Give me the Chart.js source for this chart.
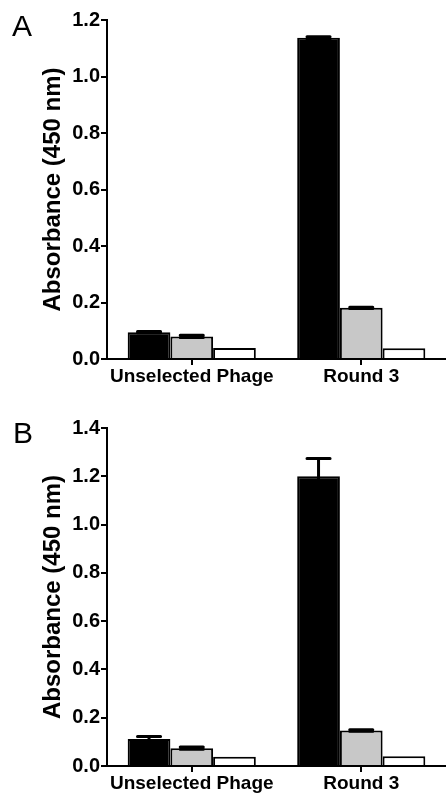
<!DOCTYPE html>
<html>
<head>
<meta charset="utf-8">
<script src="https://cdn.jsdelivr.net/npm/chart.js@4.4.0/dist/chart.umd.min.js"></script>
<style>
html, body { margin: 0; padding: 0; background: #fff; }
body { width: 446px; height: 794px; position: relative; overflow: hidden; }
.panel { position: absolute; left: 0; width: 446px; height: 397px; }
.letter { position: absolute; font: 30px/30px 'Liberation Sans', Arial, sans-serif; color: #000; }
</style>
</head>
<body>
<div class="panel" style="top:0"><canvas id="chartA"></canvas></div>
<div class="panel" style="top:397px"><canvas id="chartB"></canvas></div>
<div class="letter" style="left:12px;top:11px">A</div>
<div class="letter" style="left:13px;top:418px">B</div>
<script>
// ==================[Data]==================
const categories = ['Unselected Phage', 'Round 3'];

// Panel A
const blackA = [0.095, 1.137];
const grayA = [0.080, 0.181];
const whiteA = [0.039, 0.038];
const blackErrA = [0.002, 0.004];
const grayErrA = [0.004, 0.002];

// Panel B
const blackB = [0.112, 1.200];
const grayB = [0.074, 0.147];
const whiteB = [0.038, 0.040];
const blackErrB = [0.010, 0.074];
const grayErrB = [0.005, 0.003];

Chart.defaults.font.family = "'Liberation Sans', Arial, sans-serif";
Chart.defaults.color = '#000';

// ==================[Error bars drawn on top of the bars]==================
const errorBars = {
    id: 'errorBars',
    afterDatasetsDraw(chart) {
        const ctx = chart.ctx;
        const yScale = chart.scales.y;
        chart.data.datasets.forEach((ds, i) => {
            if (!ds.errors) return;
            const meta = chart.getDatasetMeta(i);
            meta.data.forEach((bar, j) => {
                const err = ds.errors[j];
                if (!err) return;
                const v = ds.data[j];
                const yHi = yScale.getPixelForValue(v + err);
                const yLo = yScale.getPixelForValue(v - err);
                const half = bar.width * 0.27;
                ctx.save();
                ctx.strokeStyle = '#000';
                ctx.lineWidth = 3;
                ctx.lineCap = 'round';
                ctx.beginPath();
                ctx.moveTo(bar.x, yLo);
                ctx.lineTo(bar.x, yHi);
                ctx.moveTo(bar.x - half, yHi);
                ctx.lineTo(bar.x + half, yHi);
                ctx.moveTo(bar.x - half, yLo);
                ctx.lineTo(bar.x + half, yLo);
                ctx.stroke();
                ctx.restore();
            });
        });
    }
};

// ==================[Builds one panel]==================
function makeChart(id, black, gray, white, blackErr, grayErr, yMax, topPad, xHeight) {
    const bar = { borderColor: '#000', borderWidth: 2, borderSkipped: 'start', categoryPercentage: 0.756, barPercentage: 1.0 };
    return new Chart(document.getElementById(id), {
        type: 'bar',
        data: {
            labels: categories,
            datasets: [
                Object.assign({ data: black, errors: blackErr, backgroundColor: '#000' }, bar),
                Object.assign({ data: gray, errors: grayErr, backgroundColor: '#c8c8c8' }, bar),
                Object.assign({ data: white, backgroundColor: '#fff' }, bar)
            ]
        },
        options: {
            responsive: true,
            maintainAspectRatio: false,
            animation: false,
            layout: { padding: { top: topPad, right: 0, bottom: 0, left: 0 } },
            plugins: { legend: { display: false }, tooltip: { enabled: false } },
            scales: {
                x: {
                    offset: true,
                    afterFit: s => { s.height = xHeight; },
                    border: { display: true, color: '#000', width: 2 },
                    grid: { display: true, drawOnChartArea: false, offset: false, color: '#000', lineWidth: 2, tickLength: 6 },
                    ticks: { padding: 0, font: { size: 19, weight: 'bold' }, maxRotation: 0 }
                },
                y: {
                    min: 0,
                    max: yMax,
                    afterFit: s => { s.width = 107; },
                    border: { display: true, color: '#000', width: 2 },
                    grid: { display: true, drawOnChartArea: false, color: '#000', lineWidth: 2, tickLength: 6 },
                    ticks: { stepSize: 0.2, padding: 1, font: { size: 20, weight: 'bold' }, callback: v => v.toFixed(1) },
                    title: { display: true, text: 'Absorbance (450 nm)', font: { size: 24, weight: 'bold' }, padding: { top: 39, bottom: 0 } }
                }
            }
        },
        plugins: [errorBars]
    });
}

const chartA = makeChart('chartA', blackA, grayA, whiteA, blackErrA, grayErrA, 1.2, 20, 38);
const chartB = makeChart('chartB', blackB, grayB, whiteB, blackErrB, grayErrB, 1.4, 31, 28);
</script>
</body>
</html>
